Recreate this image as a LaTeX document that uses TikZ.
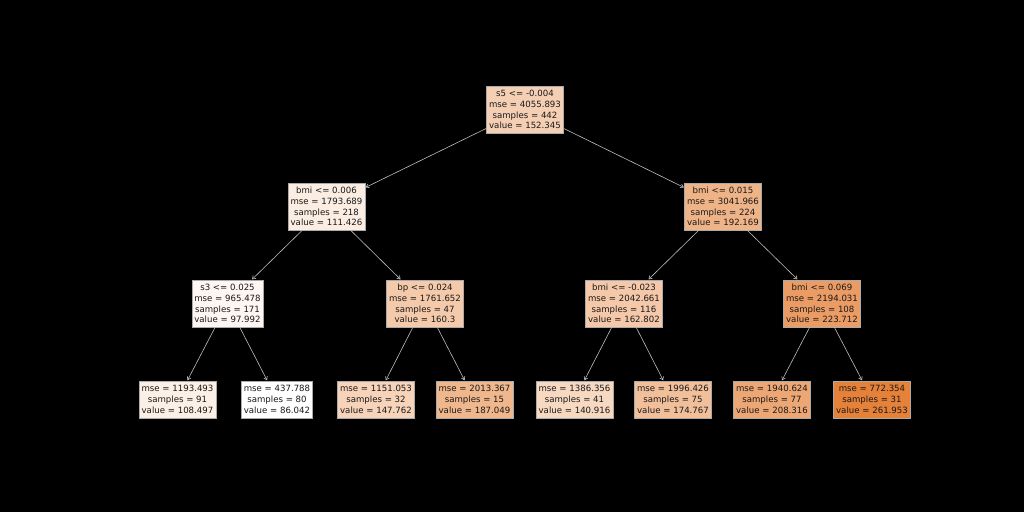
\documentclass[tikz,border=0pt]{standalone}
\usepackage{fontspec}
\setmainfont{DejaVu Sans}
\usetikzlibrary{arrows.meta}
\definecolor{treeorange}{RGB}{229,129,57}
\definecolor{boxedge}{RGB}{170,170,170}
\definecolor{edgeline}{RGB}{190,190,190}
\begin{document}
\begin{tikzpicture}[x=1pt,y=-1pt,
  tnode/.style={draw=boxedge, line width=0.5pt, align=center, inner xsep=2.5pt, inner ysep=0pt,
    font=\fontsize{8.6}{10.8}\selectfont, text=black!90},
  split/.style={tnode, minimum height=47pt},
  leaf/.style={tnode, minimum height=37pt},
  link/.style={draw=edgeline, line width=0.6pt, -{Straight Barb[length=3pt,width=4pt]}, shorten >=0.5pt}
]
\fill[black] (0,0) rectangle (1024,512);
\useasboundingbox (0,0) rectangle (1024,512);

\node[split, fill=treeorange!37.7!white] (n0) at (525,109.5) {s5 <= -0.004\\mse = 4055.893\\samples = 442\\value = 152.345};
\node[split, fill=treeorange!14.4!white] (n1) at (326.5,206.5) {bmi <= 0.006\\mse = 1793.689\\samples = 218\\value = 111.426};
\node[split, fill=treeorange!60.3!white] (n2) at (723,206.5) {bmi <= 0.015\\mse = 3041.966\\samples = 224\\value = 192.169};
\node[split, fill=treeorange!6.8!white] (n3) at (227.5,303.5) {s3 <= 0.025\\mse = 965.478\\samples = 171\\value = 97.992};
\node[split, fill=treeorange!42.2!white] (n4) at (425,303.5) {bp <= 0.024\\mse = 1761.652\\samples = 47\\value = 160.3};
\node[split, fill=treeorange!43.6!white] (n5) at (624,303.5) {bmi <= -0.023\\mse = 2042.661\\samples = 116\\value = 162.802};
\node[split, fill=treeorange!78.3!white] (n6) at (822,303.5) {bmi <= 0.069\\mse = 2194.031\\samples = 108\\value = 223.712};

\node[leaf, fill=treeorange!12.8!white] (l1) at (177.5,399.5) {mse = 1193.493\\samples = 91\\value = 108.497};
\node[leaf, fill=white] (l2) at (277,399.5) {mse = 437.788\\samples = 80\\value = 86.042};
\node[leaf, fill=treeorange!35.1!white] (l3) at (376,399.5) {mse = 1151.053\\samples = 32\\value = 147.762};
\node[leaf, fill=treeorange!57.4!white] (l4) at (474.5,399.5) {mse = 2013.367\\samples = 15\\value = 187.049};
\node[leaf, fill=treeorange!31.2!white] (l5) at (574.5,399.5) {mse = 1386.356\\samples = 41\\value = 140.916};
\node[leaf, fill=treeorange!50.4!white] (l6) at (673,399.5) {mse = 1996.426\\samples = 75\\value = 174.767};
\node[leaf, fill=treeorange!69.5!white] (l7) at (772,399.5) {mse = 1940.624\\samples = 77\\value = 208.316};
\node[leaf, fill=treeorange] (l8) at (872,399.5) {mse = 772.354\\samples = 31\\value = 261.953};

\draw[link] (n0) -- (n1);
\draw[link] (n0) -- (n2);
\draw[link] (n1) -- (n3);
\draw[link] (n1) -- (n4);
\draw[link] (n2) -- (n5);
\draw[link] (n2) -- (n6);
\draw[link] (n3) -- (l1);
\draw[link] (n3) -- (l2);
\draw[link] (n4) -- (l3);
\draw[link] (n4) -- (l4);
\draw[link] (n5) -- (l5);
\draw[link] (n5) -- (l6);
\draw[link] (n6) -- (l7);
\draw[link] (n6) -- (l8);
\end{tikzpicture}
\end{document}
